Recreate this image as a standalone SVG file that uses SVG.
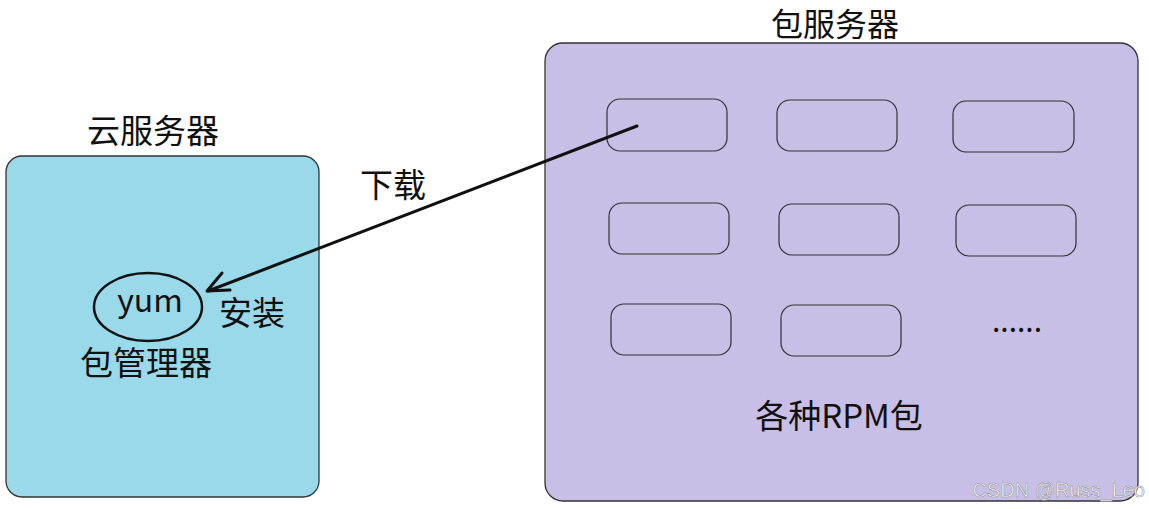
<svg xmlns="http://www.w3.org/2000/svg" width="1149" height="509" viewBox="0 0 1149 509">
<style>
.t{font-family:"Noto Sans CJK SC","Noto Sans",sans-serif;font-size:33px;fill:#111;text-anchor:middle}
.pkg{fill:none;stroke:#333;stroke-width:1.2}
.srv{stroke:#333;stroke-width:1.3}
</style>
<rect width="1149" height="509" fill="#ffffff"/>
<g id="cloud-server">
<rect class="srv" x="6" y="156" width="313" height="341" rx="16" fill="#99d9ea"/>
<text class="t" x="153" y="143">云服务器</text>
</g>
<g id="yum">
<ellipse cx="148" cy="307" rx="54" ry="34" fill="none" stroke="#111" stroke-width="2.5"/>
<text class="t" x="150" y="312" style="font-size:32px">yum</text>
<text class="t" x="146" y="375">包管理器</text>
</g>
<g id="package-server">
<rect class="srv" x="545" y="43" width="593" height="458" rx="18" fill="#c8bfe7"/>
<text class="t" x="835" y="36" style="font-size:32px">包服务器</text>
<rect class="pkg" x="607" y="99" width="120" height="52" rx="13"/>
<rect class="pkg" x="777" y="100" width="120" height="51" rx="13"/>
<rect class="pkg" x="953" y="101" width="121" height="51" rx="13"/>
<rect class="pkg" x="609" y="203" width="120" height="51" rx="13"/>
<rect class="pkg" x="779" y="204" width="120" height="51" rx="13"/>
<rect class="pkg" x="956" y="205" width="120" height="51" rx="13"/>
<rect class="pkg" x="611" y="304" width="120" height="51" rx="13"/>
<rect class="pkg" x="781" y="305" width="120" height="51" rx="13"/>
<text class="t" x="1017" y="332" style="font-size:30px">......</text>
<text class="t" x="839" y="428">各种RPM包</text>
</g>
<g id="connectors">
<line x1="637" y1="126" x2="208" y2="291" stroke="#111" stroke-width="3" stroke-linecap="round"/>
<polyline points="222,273 207,291 230,290" fill="none" stroke="#111" stroke-width="3" stroke-linecap="round" stroke-linejoin="round"/>
<text class="t" x="393" y="197">下载</text>
<text class="t" x="252" y="325">安装</text>
</g>
<text x="1145" y="497" font-family="Liberation Sans, sans-serif" font-size="20" text-anchor="end" fill="#f4f4f4" stroke="#8a8a8a" stroke-width="0.5">CSDN @Russ_Leo</text>
</svg>
